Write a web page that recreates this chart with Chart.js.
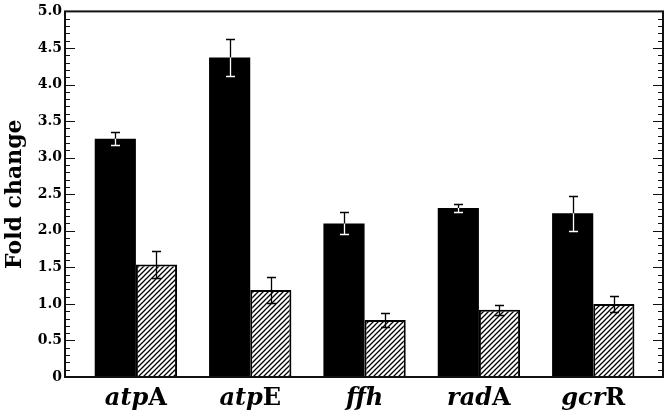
<!DOCTYPE html>
<html>
<head>
<meta charset="utf-8">
<script src="https://cdn.jsdelivr.net/npm/chart.js@4.4.1/dist/chart.umd.min.js"></script>
<style>
  body { margin: 0; background: #fff; }
  #wrap { width: 669px; height: 418px; }
</style>
</head>
<body>
<div id="wrap"><canvas id="foldChart" width="669" height="418"></canvas></div>
<script>
// gene names: italic part + upright bold suffix
var genes = ['atpA', 'atpE', 'ffh', 'radA', 'gcrR'];
var geneItalic = ['atp', 'atp', 'ffh', 'rad', 'gcr'];
var geneSuffix = ['A', 'E', '', 'A', 'R'];

// fold change values (black = first condition, hatched = second)
var solidValues = [3.26, 4.37, 2.10, 2.31, 2.24];
var solidErrors = [0.09, 0.25, 0.15, 0.06, 0.24];
var hatchValues = [1.54, 1.19, 0.78, 0.92, 1.00];
var hatchErrors = [0.18, 0.18, 0.10, 0.07, 0.11];

var yTicks = [0, 0.5, 1.0, 1.5, 2.0, 2.5, 3.0, 3.5, 4.0, 4.5, 5.0];

var serif = "'DejaVu Serif', 'Liberation Serif', serif";

// diagonal hatch pattern
function makeHatch() {
  var c = document.createElement('canvas');
  c.width = 5; c.height = 5;
  var g = c.getContext('2d');
  g.fillStyle = '#fff';
  g.fillRect(0, 0, 5, 5);
  g.strokeStyle = '#000';
  g.lineWidth = 1.3;
  g.beginPath();
  g.moveTo(-1, 6); g.lineTo(6, -1);
  g.moveTo(-1, 1); g.lineTo(1, -1);
  g.moveTo(4, 6); g.lineTo(6, 4);
  g.stroke();
  return g.createPattern(c, 'repeat');
}

function toPoints(vals) {
  return vals.map(function (v, i) { return { x: i, y: v }; });
}

// white canvas so the 'difference' error bars come out black on white
var whiteBg = {
  id: 'whiteBg',
  beforeDraw: function (chart) {
    var ctx = chart.ctx;
    ctx.save();
    ctx.fillStyle = '#fff';
    ctx.fillRect(0, 0, chart.width, chart.height);
    ctx.restore();
  }
};

// error bars: inverted over the black bars, plain black over hatched ones
var errorBars = {
  id: 'errorBars',
  afterDatasetsDraw: function (chart) {
    var ctx = chart.ctx;
    var ys = chart.scales.y;
    var errs = [solidErrors, hatchErrors];
    chart.data.datasets.forEach(function (ds, di) {
      ctx.save();
      if (di === 0) {
        ctx.globalCompositeOperation = 'difference';
        ctx.strokeStyle = '#fff';
      } else {
        ctx.strokeStyle = '#000';
      }
      ctx.lineWidth = 1.3;
      var meta = chart.getDatasetMeta(di);
      meta.data.forEach(function (bar, i) {
        var v = ds.data[i].y;
        var top = Math.round(ys.getPixelForValue(v + errs[di][i])) + 0.5;
        var bot = Math.round(ys.getPixelForValue(v - errs[di][i])) + 0.5;
        var x = Math.round(bar.x) + 0.5;
        ctx.beginPath();
        ctx.moveTo(x - 4.5, top); ctx.lineTo(x + 4.5, top);
        ctx.moveTo(x, top); ctx.lineTo(x, bot);
        ctx.moveTo(x - 4.5, bot); ctx.lineTo(x + 4.5, bot);
        ctx.stroke();
      });
      ctx.restore();
    });
  }
};

// box frame, inward ticks on both sides, gene labels
var frame = {
  id: 'frame',
  afterDraw: function (chart) {
    var ctx = chart.ctx;
    var a = chart.chartArea;
    var ys = chart.scales.y;
    var xs = chart.scales.x;
    ctx.save();
    ctx.strokeStyle = '#111';
    ctx.lineWidth = 1;
    ctx.beginPath();
    for (var k = 0; k <= 50; k++) {
      var y = Math.round(ys.getPixelForValue(k / 10)) + 0.5;
      var len = k % 5 === 0 ? 10 : 5;
      ctx.moveTo(a.left, y); ctx.lineTo(a.left + len, y);
      ctx.moveTo(a.right, y); ctx.lineTo(a.right - len, y);
    }
    ctx.stroke();
    ctx.lineWidth = 2;
    ctx.strokeRect(a.left, a.top, a.right - a.left, a.bottom - a.top);

    ctx.fillStyle = '#000';
    ctx.textBaseline = 'alphabetic';
    var itFont = 'italic bold 24px ' + serif;
    var bdFont = 'bold 24px ' + serif;
    genes.forEach(function (g, i) {
      ctx.font = itFont;
      var w1 = ctx.measureText(geneItalic[i]).width;
      ctx.font = bdFont;
      var w2 = ctx.measureText(geneSuffix[i]).width;
      var x0 = xs.getPixelForValue(i) - (w1 + w2) / 2;
      var yb = a.bottom + 28;
      ctx.font = itFont;
      ctx.textAlign = 'left';
      ctx.fillText(geneItalic[i], x0, yb);
      ctx.font = bdFont;
      ctx.fillText(geneSuffix[i], x0 + w1, yb);
    });
    ctx.restore();
  }
};

var hatch = makeHatch();

new Chart(document.getElementById('foldChart'), {
  type: 'bar',
  data: {
    datasets: [
      {
        label: 'solid',
        data: toPoints(solidValues),
        backgroundColor: '#000',
        borderColor: '#000',
        borderWidth: 0
      },
      {
        label: 'hatched',
        data: toPoints(hatchValues),
        backgroundColor: hatch,
        borderColor: '#000',
        borderWidth: 2
      }
    ]
  },
  options: {
    responsive: false,
    animation: false,
    devicePixelRatio: 1,
    layout: { padding: { top: 10, right: 6, left: 0, bottom: 0 } },
    datasets: { bar: { categoryPercentage: 0.72, barPercentage: 1.0 } },
    plugins: { legend: { display: false }, tooltip: { enabled: false } },
    scales: {
      x: {
        type: 'linear',
        offset: false,
        min: -0.62,
        max: 4.61,
        afterBuildTicks: function (s) {
          s.ticks = genes.map(function (g, i) { return { value: i }; });
        },
        grid: { display: false, drawTicks: false, offset: false },
        border: { display: false },
        ticks: { display: false },
        afterFit: function (s) { s.height = 41; }
      },
      y: {
        min: 0,
        max: 5,
        afterBuildTicks: function (s) {
          s.ticks = yTicks.map(function (v) { return { value: v }; });
        },
        grid: { display: false, drawTicks: false },
        border: { display: false },
        ticks: {
          padding: 3,
          color: '#000',
          font: { family: serif, weight: 'bold', size: 14 },
          callback: function (v) { return v === 0 ? '0' : v.toFixed(1); }
        },
        title: {
          display: true,
          text: 'Fold change',
          color: '#000',
          font: { family: serif, weight: 'bold', size: 22 },
          padding: { top: 2, bottom: 0 }
        },
        afterFit: function (s) { s.width = 65; }
      }
    }
  },
  plugins: [whiteBg, errorBars, frame]
});
</script>
</body>
</html>
